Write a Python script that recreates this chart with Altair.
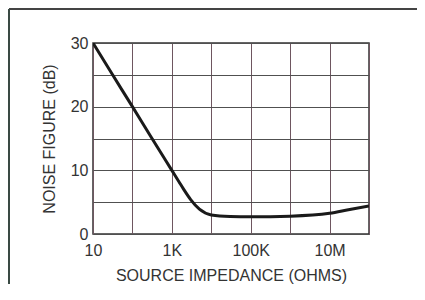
import altair as alt
import pandas as pd

# Data
impedance = [10, 30, 100, 300, 1000, 1500, 2000, 3000, 5000, 10000, 30000, 100000, 1e6, 1e7, 3e7, 1e8]
noise_db = [30, 25.2, 20, 15.2, 10, 8.25, 7.0, 5.4, 3.9, 3.0, 2.75, 2.7, 2.8, 3.25, 3.8, 4.4]

x_grid = [10, 100, 1000, 10000, 100000, 1e6, 1e7, 1e8]
y_grid = [0, 5, 10, 15, 20, 25, 30]

df = pd.DataFrame({"imp": impedance, "nf": noise_db})

label_expr = (
    "datum.value == 10 ? '10' : datum.value == 1000 ? '1K' : "
    "datum.value == 100000 ? '100K' : datum.value == 10000000 ? '10M' : ''"
)

FONT = "Liberation Sans"
TXT = "#333333"

curve = alt.Chart(df).mark_line(
    color="#1a1a1a", strokeWidth=3, interpolate="monotone", clip=True
).encode(
    x=alt.X(
        "imp:Q",
        scale=alt.Scale(type="log", domain=[10, 1e8], nice=False),
        axis=alt.Axis(
            values=x_grid,
            labelExpr=label_expr,
            title="SOURCE IMPEDANCE (OHMS)",
            ticks=False,
            domain=False,
            labelPadding=8,
            titlePadding=9,
            gridColor="#6e5660",
            gridOpacity=1,
            gridWidth=1,
            labelFlush=False,
        ),
    ),
    y=alt.Y(
        "nf:Q",
        scale=alt.Scale(domain=[0, 30], nice=False),
        axis=alt.Axis(
            values=y_grid,
            labelExpr="datum.value % 10 == 0 ? datum.label : ''",
            title="NOISE FIGURE (dB)",
            ticks=False,
            domain=False,
            labelPadding=5,
            titlePadding=13,
            gridColor="#505050",
            gridOpacity=1,
            gridWidth=1,
        ),
    ),
)

frame_data = alt.Data(values=[{}])
top_line = alt.Chart(frame_data).mark_rule(color="#444444", strokeWidth=2).encode(
    x=alt.value(-84), x2=alt.value(330), y=alt.value(-34)
)
left_line = alt.Chart(frame_data).mark_rule(color="#3a4a44", strokeWidth=2).encode(
    x=alt.value(-84), y=alt.value(-34), y2=alt.value(242)
)

chart = (
    alt.layer(curve, top_line, left_line)
    .properties(
        width=276,
        height=191,
        padding={"left": 85, "top": 35, "right": 48, "bottom": 50},
        autosize=alt.AutoSizeParams(type="none"),
        background="white",
    )
    .configure_view(stroke="#333333", strokeWidth=1.5)
    .configure_axis(
        labelFont=FONT,
        titleFont=FONT,
        labelFontSize=16,
        titleFontSize=16,
        labelColor=TXT,
        titleColor=TXT,
        titleFontWeight="normal",
    )
)

chart.save("out.html", embed_options={"renderer": "svg", "actions": False})
